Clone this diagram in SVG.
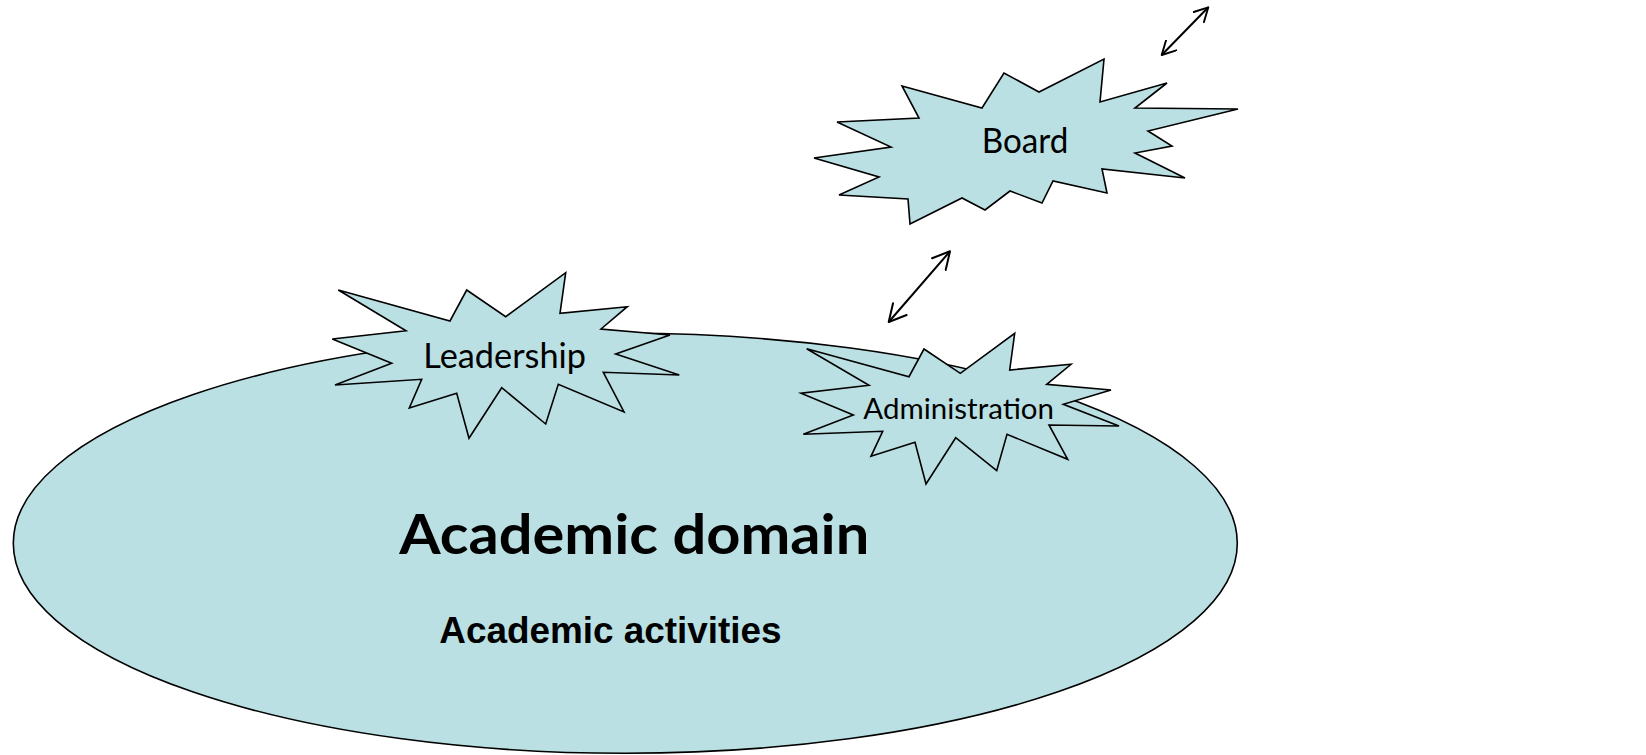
<svg xmlns="http://www.w3.org/2000/svg" width="1646" height="755" viewBox="0 0 1646 755">
  <style>
    .shape { fill: #BAE0E3; stroke: #000; stroke-width: 1.6; stroke-linejoin: miter; }
    .label { font-family: Lato, "Open Sans", "Liberation Sans", sans-serif; fill: #000; text-anchor: start; }
    .bold { font-family: "Liberation Sans", Arial, sans-serif; font-weight: bold; fill: #000; }
    .link { fill: none; stroke: #000; stroke-width: 2; }
  </style>
  <defs>
    <marker id="head" viewBox="0 0 20 20" refX="18" refY="10" markerWidth="20" markerHeight="20" markerUnits="userSpaceOnUse" orient="auto-start-reverse">
      <path d="M1,1 L18,10 L1,19" fill="none" stroke="#000" stroke-width="2" stroke-linejoin="round" stroke-linecap="round"/>
    </marker>
    <marker id="headSmall" viewBox="0 0 20 20" refX="18" refY="10" markerWidth="16" markerHeight="16" markerUnits="userSpaceOnUse" orient="auto-start-reverse">
      <path d="M1,1 L18,10 L1,19" fill="none" stroke="#000" stroke-width="2.4" stroke-linejoin="round" stroke-linecap="round"/>
    </marker>
  </defs>

  <!-- Academic domain -->
  <g id="academic-domain">
    <ellipse class="shape" cx="625.3" cy="543.3" rx="612" ry="210" stroke-width="1.4"/>
    <text class="label" x="399.3" y="554" font-size="55" font-weight="bold" textLength="470" lengthAdjust="spacingAndGlyphs">Academic domain</text>
    <text class="bold" x="439.3" y="643.3" font-size="37" textLength="342.3" lengthAdjust="spacingAndGlyphs">Academic activities</text>
  </g>

  <!-- Leadership -->
  <g id="leadership">
    <polygon class="shape" points="338.3,290 450,321 466.7,290 505.7,316.7 565.7,272.7 560,313.3 627.3,306.7 601,329 670,335 615.7,354 679.3,375 603.3,372.3 624,412 558.3,384.3 545.7,424 501.7,387.7 469,438.3 456.7,393.3 409.3,408 421.7,379.3 335,385 391.7,363.3 332.3,339 406,330.7"/>
    <text class="label" x="423.3" y="368.3" font-size="34" textLength="162.7" lengthAdjust="spacingAndGlyphs">Leadership</text>
  </g>

  <!-- Administration -->
  <g id="administration">
    <polygon class="shape" points="806.7,348.7 909,376.7 924,349 960.3,373.3 1014.7,333.3 1009.7,370 1071,364.3 1046.7,384.3 1111,390 1063.3,404.3 1119,426 1049,425 1067.7,459.3 1007,434.3 996.7,470.7 955.7,437.7 926,484 915,442.3 871,456.3 882.7,431.3 803.3,434.3 853.3,415 801,393.3 869,385.3"/>
    <text class="label" x="863.3" y="419.3" font-size="29" textLength="190.7" lengthAdjust="spacingAndGlyphs">Administration</text>
  </g>

  <!-- Board -->
  <g id="board">
    <polygon class="shape" points="902,86 982,108 1004,73 1039,92 1104,59 1100,102 1167,83 1135,108 1238,109 1148,131 1172,146 1135,153 1185,178 1102,169 1107,193 1053,181 1042,203 1010,191 985,210 962,198 910,224 908,199 839,195 879,177 814,158 891,147 837,122 919,118"/>
    <text class="label" x="981.7" y="153.3" font-size="34" textLength="86.7" lengthAdjust="spacingAndGlyphs">Board</text>
  </g>

  <!-- Connectors -->
  <g id="connectors">
    <line class="link" x1="888.7" y1="322" x2="950" y2="251.3" marker-start="url(#head)" marker-end="url(#head)"/>
    <line class="link" x1="1161.7" y1="55" x2="1208.3" y2="7.3" marker-start="url(#headSmall)" marker-end="url(#headSmall)"/>
  </g>
</svg>
